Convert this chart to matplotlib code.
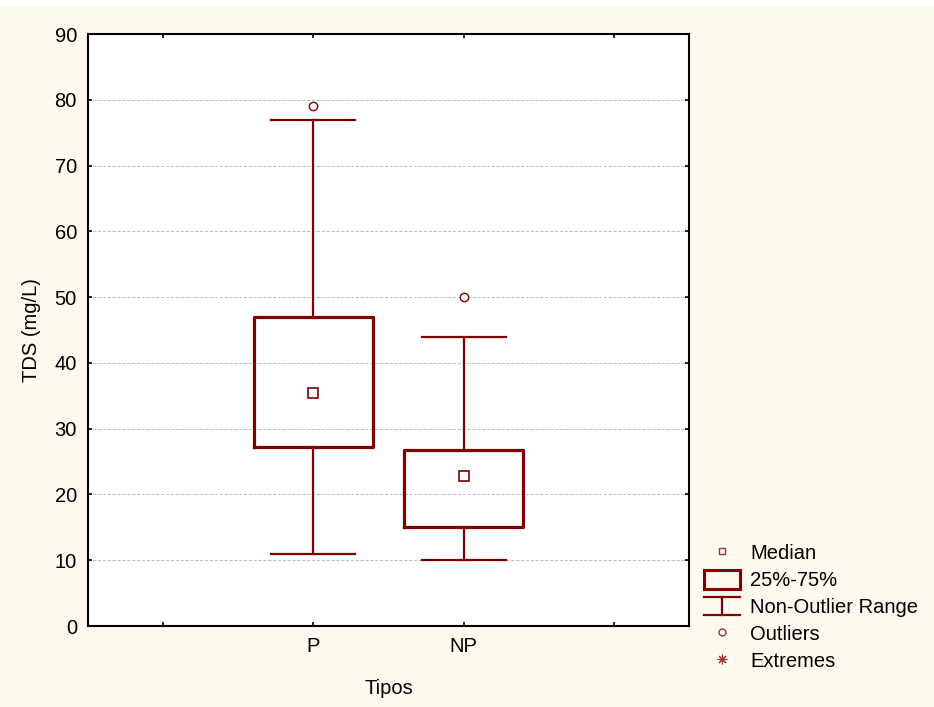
import matplotlib
matplotlib.use("Agg")
import matplotlib.pyplot as plt
from matplotlib.lines import Line2D
from matplotlib.patches import Rectangle
from matplotlib.legend_handler import HandlerBase

# Box plot summary of TDS per type
tipos = ["P", "NP"]
whisker_low = [11.0, 10.0]
q1 = [27.2, 15.1]
medians = [35.4, 22.85]
q3 = [47.0, 26.8]
whisker_high = [77.0, 44.0]
outliers = [[79.0], [50.0]]

positions = [2, 3]
red = "#800000"
bg = "#fef9ee"
fs = 14.5

plt.rcParams["font.family"] = ["Liberation Sans", "DejaVu Sans"]
plt.rcParams["font.size"] = fs


class RangeHandler(HandlerBase):
    """Draws the I-shaped whisker glyph in the legend."""
    def create_artists(self, legend, orig_handle, xdescent, ydescent,
                       width, height, fontsize, trans):
        x0, x1 = -xdescent, -xdescent + width
        y0, y1 = -ydescent, -ydescent + height
        xm = (x0 + x1) / 2
        segs = [([x0, x1], [y1, y1]), ([xm, xm], [y0, y1]), ([x0, x1], [y0, y0])]
        arts = []
        for xs, ys in segs:
            ln = Line2D(xs, ys, color=red, linewidth=1.6, transform=trans)
            arts.append(ln)
        return arts


fig = plt.figure(figsize=(9.34, 7.07), dpi=100, facecolor=bg)
# thin white band along the top edge
fig.patches.append(Rectangle((0, 1 - 6 / 707), 1, 6 / 707, transform=fig.transFigure,
                             facecolor="white", edgecolor="none", zorder=-1))

ax = fig.add_axes([88 / 934, 81 / 707, 601 / 934, 592 / 707])
ax.set_facecolor("white")

stats = []
for i in range(len(tipos)):
    stats.append(dict(label=tipos[i], whislo=whisker_low[i], q1=q1[i], med=medians[i],
                      q3=q3[i], whishi=whisker_high[i], fliers=outliers[i]))

ax.bxp(stats, positions=positions, widths=0.79, showfliers=True,
       boxprops=dict(color=red, linewidth=2.3),
       whiskerprops=dict(color=red, linewidth=1.6),
       capprops=dict(color=red, linewidth=1.6),
       medianprops=dict(linestyle="none"),
       flierprops=dict(marker="o", markersize=6, markerfacecolor="white",
                       markeredgecolor=red, markeredgewidth=1.0),
       capwidths=0.56, zorder=3)

ax.plot(positions, medians, linestyle="none", marker="s", markersize=6.5,
        markerfacecolor="white", markeredgecolor=red, markeredgewidth=1.2, zorder=4)

ax.set_xlim(0.5, 4.5)
ax.set_ylim(0, 90)
ax.set_xticks([1, 2, 3, 4])
ax.set_xticklabels(["", "P", "NP", ""])
ax.set_yticks(range(0, 100, 10))

ax.grid(axis="y", color="#b8b8b8", linestyle=(0, (3, 2)), linewidth=0.7, zorder=0)
ax.set_axisbelow(True)

ax.tick_params(direction="in", length=3, width=1.2, top=True, right=True,
               labelsize=fs, pad=8, colors="black")
for sp in ax.spines.values():
    sp.set_linewidth(1.5)
    sp.set_color("black")

ax.set_xlabel("Tipos", fontsize=fs)
ax.set_ylabel("TDS (mg/L)", fontsize=fs)
ax.xaxis.set_label_coords(0.5, -0.089)
ax.yaxis.set_label_coords(-0.079, 0.5)

h_median = Line2D([], [], linestyle="none", marker="s", markersize=5,
                  markerfacecolor="none", markeredgecolor="#a03030", markeredgewidth=1.0)
h_box = Rectangle((0, 0), 1, 1, facecolor="none", edgecolor=red, linewidth=2.2)
h_range = object()
h_out = Line2D([], [], linestyle="none", marker="o", markersize=5,
               markerfacecolor="none", markeredgecolor="#a03030", markeredgewidth=1.0)
h_ext = Line2D([], [], linestyle="none", marker=(8, 2, 0), markersize=7,
               markeredgecolor="#a03030", markeredgewidth=0.8)

fig.legend([h_median, h_box, h_range, h_out, h_ext],
           ["Median", "25%-75%", "Non-Outlier Range", "Outliers", "Extremes"],
           handler_map={object: RangeHandler()},
           loc="upper left", bbox_to_anchor=(704 / 934, 1 - 543 / 707),
           frameon=False, fontsize=fs, handlelength=1.8, handleheight=1.05,
           labelspacing=0.33, handletextpad=0.5, borderaxespad=0, borderpad=0)

fig.savefig("out.png", dpi=100, facecolor=bg)
